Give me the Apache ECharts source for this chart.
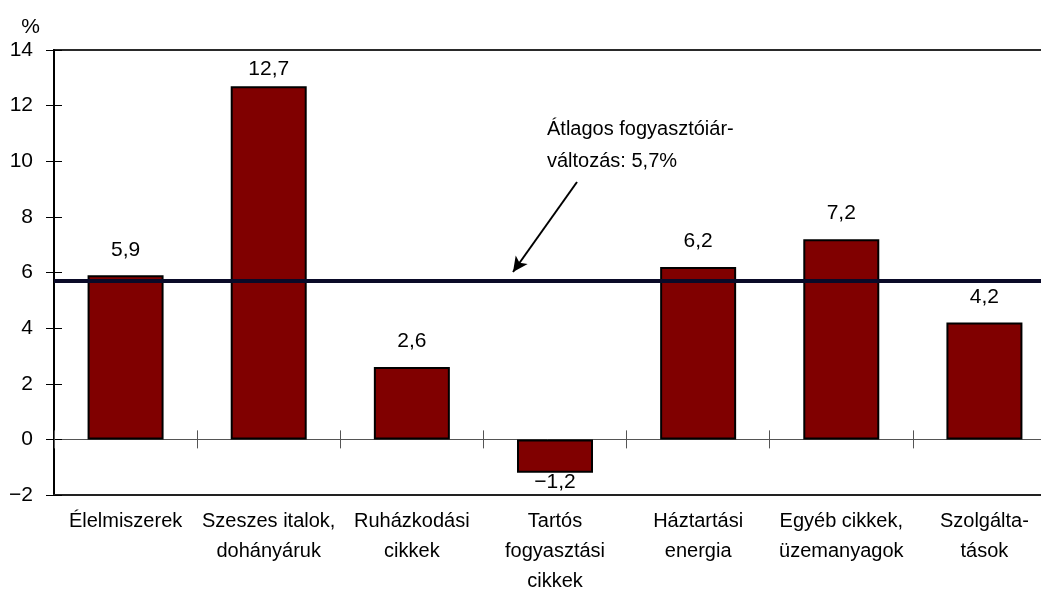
<!DOCTYPE html>
<html>
<head>
<meta charset="utf-8">
<script src="https://cdn.jsdelivr.net/npm/echarts@6/dist/echarts.min.js"></script>
<style>
html,body{margin:0;padding:0;background:#fff;}
#chart{width:1041px;height:594px;}
</style>
</head>
<body>
<div id="chart"></div>
<script>
const categories = ['Élelmiszerek', 'Szeszes italok,\ndohányáruk', 'Ruházkodási\ncikkek', 'Tartós\nfogyasztási\ncikkek', 'Háztartási\nenergia', 'Egyéb cikkek,\nüzemanyagok', 'Szolgálta-\ntások'];
const values = [5.9, 12.7, 2.6, -1.2, 6.2, 7.2, 4.2];
const average = 5.7;
const yMin = -2, yMax = 14, yStep = 2;
const annotationText = 'Átlagos fogyasztóiár-\nváltozás: 5,7%';

const FONT = '"Liberation Sans", Arial, sans-serif';
const fmt = v => String(v).replace('.', ',').replace('-', '\u2212');

const chart = echarts.init(document.getElementById('chart'));

const barData = values.map((v, i) => {
  const item = { value: v };
  if (v < 0) {
    item.label = { position: 'bottom', distance: -1 };
  } else if (v > yMax - 2) {
    item.label = { distance: 6 };
  }
  return item;
});

const option = {
  animation: false,
  backgroundColor: '#fff',
  textStyle: { fontFamily: FONT },
  grid: {
    left: 54, top: 50, bottom: 99, right: -15,
    outerBoundsMode: 'none', containLabel: false,
    show: true, borderColor: '#2a2a2a', borderWidth: 2, backgroundColor: 'transparent'
  },
  xAxis: [
    {
      type: 'category', data: categories, position: 'bottom',
      axisLine: { onZero: false, lineStyle: { color: '#222', width: 2 } },
      axisTick: { show: false },
      axisLabel: { interval: 0, color: '#000', fontSize: 20, lineHeight: 30, margin: 11, fontFamily: FONT }
    },
    {
      type: 'category', data: categories, position: 'bottom',
      axisLine: { onZero: true, onZeroAxisIndex: 0, lineStyle: { color: '#555', width: 1 } },
      axisTick: { show: true, interval: 0, length: 9, lineStyle: { color: '#555', width: 1 } },
      axisLabel: { show: false }
    },
    {
      type: 'category', data: categories, position: 'bottom',
      axisLine: { show: false, onZero: true, onZeroAxisIndex: 0 },
      axisTick: { show: true, inside: true, interval: 0, length: 9, lineStyle: { color: '#555', width: 1 } },
      axisLabel: { show: false }
    }
  ],
  yAxis: [
    {
      type: 'value', min: yMin, max: yMax, interval: yStep, position: 'left',
      name: '%', nameLocation: 'end', nameGap: 12,
      nameTextStyle: { color: '#000', fontSize: 21, align: 'right', verticalAlign: 'bottom', padding: [0, 14, 0, 0], fontFamily: FONT },
      axisLine: { show: true, lineStyle: { color: '#000', width: 2 } },
      axisTick: { show: true, length: 8, lineStyle: { color: '#000', width: 1 } },
      axisLabel: { color: '#000', fontSize: 21, margin: 21, formatter: fmt, fontFamily: FONT },
      splitLine: { show: false }
    },
    {
      type: 'value', min: yMin, max: yMax, interval: yStep, position: 'left',
      axisLine: { show: false },
      axisTick: { show: true, inside: true, length: 8, lineStyle: { color: '#000', width: 1 } },
      axisLabel: { show: false },
      splitLine: { show: false }
    }
  ],
  series: [
    {
      type: 'bar', xAxisIndex: 0, yAxisIndex: 0,
      data: barData,
      barWidth: 76,
      itemStyle: { color: '#800000', borderColor: '#000', borderWidth: 2 },
      label: {
        show: true, position: 'top', distance: 15, color: '#000', fontSize: 21, fontFamily: FONT,
        formatter: p => fmt(p.value)
      },
      markLine: {
        silent: true,
        symbol: ['none', 'none'],
        label: { show: false },
        data: [
          { yAxis: average, lineStyle: { color: '#0a0a28', width: 4, type: 'solid' } },
          [
            { x: 577, y: 182, symbol: 'none' },
            { x: 513, y: 272, symbol: 'arrow', symbolSize: [11, 15] }
          ]
        ],
        lineStyle: { color: '#000', width: 2, type: 'solid' }
      }
    }
  ],
  graphic: [
    {
      type: 'text', left: 547, top: 113,
      style: { text: annotationText, fill: '#000', font: '20px ' + FONT, lineHeight: 32, textAlign: 'left' }
    }
  ]
};
chart.setOption(option);
</script>
</body>
</html>
